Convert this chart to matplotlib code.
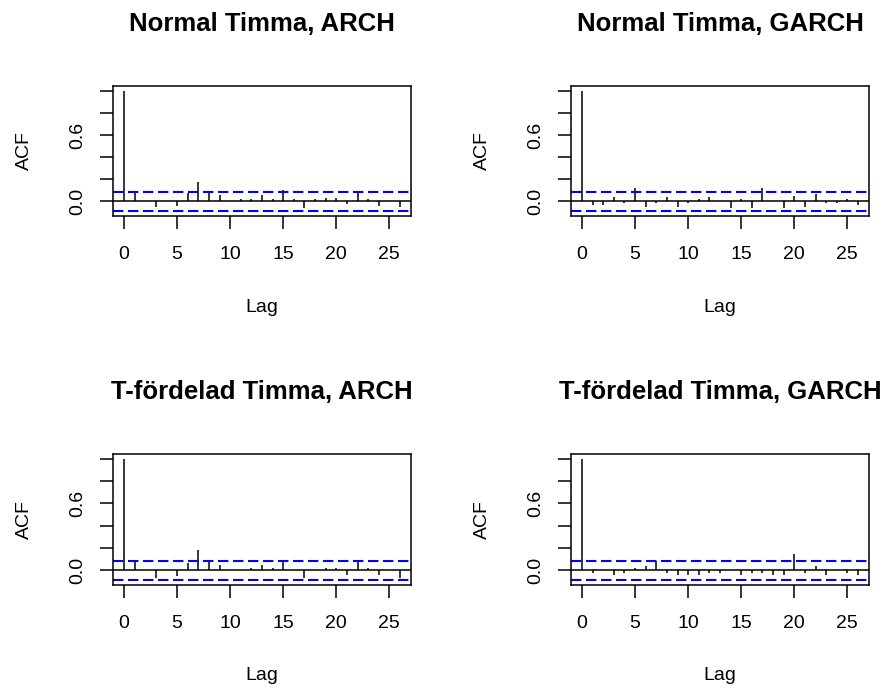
import matplotlib
matplotlib.use("Agg")
import matplotlib.pyplot as plt
import numpy as np

plt.rcParams['font.family'] = ['Liberation Sans', 'DejaVu Sans']

# ACF values, lags 0..26
lags = np.arange(0, 27)
acf_norm_arch = [1.0, 0.075, 0.0, -0.054, 0.0, -0.04, 0.075, 0.18, 0.075, 0.06,
                 0.0, 0.018, 0.018, 0.06, 0.018, 0.108, 0.018, -0.063, 0.018, 0.033,
                 0.033, -0.024, 0.075, 0.018, -0.04, 0.0, -0.054]
acf_norm_garch = [1.0, -0.03, -0.03, 0.036, -0.018, 0.126, -0.048, -0.018, 0.036, -0.048,
                  -0.018, 0.024, 0.036, 0.0, -0.06, 0.024, -0.06, 0.126, 0.0, -0.06,
                  0.05, -0.048, 0.066, -0.018, -0.018, 0.024, -0.03]
acf_t_arch = [1.0, 0.078, 0.0, -0.066, 0.0, -0.048, 0.063, 0.18, 0.078, 0.05,
              0.0, 0.0, 0.02, 0.05, 0.02, 0.084, 0.0, -0.066, 0.0, 0.02,
              0.02, -0.04, 0.078, 0.02, -0.04, 0.0, -0.066]
acf_t_garch = [1.0, -0.024, 0.0, -0.04, -0.024, 0.02, 0.036, 0.084, -0.024, -0.04,
               -0.04, -0.04, -0.024, -0.024, 0.0, -0.04, -0.024, -0.024, -0.04, -0.04,
               0.15, -0.024, 0.036, -0.04, 0.0, -0.024, -0.04]
titles = ["Normal Timma, ARCH", "Normal Timma, GARCH",
          "T-fördelad Timma, ARCH", "T-fördelad Timma, GARCH"]
clim = 0.088

fig = plt.figure(figsize=(8.89, 6.93), dpi=100)
W, H = 889, 693
# axes boxes in pixels: left, top, right, bottom
boxes = [(113, 86, 411, 216), (571, 86, 869, 216),
         (113, 454, 411, 585), (571, 454, 869, 585)]
data = [acf_norm_arch, acf_norm_garch, acf_t_arch, acf_t_garch]

for (l, t, r, b), vals, title in zip(boxes, data, titles):
    ax = fig.add_axes([l / W, 1 - b / H, (r - l) / W, (b - t) / H])
    ax.vlines(lags, 0, vals, color='black', lw=1.1)
    ax.axhline(0, color='black', lw=1.1)
    for c in (clim, -clim):
        ax.axhline(c, color='#0000FF', lw=1.5, ls=(0, (5, 2.2)))
    ax.set_xlim(-1.04, 27.04)
    ax.set_ylim(-clim - 0.0435, 1.0435)
    ax.set_xticks([0, 5, 10, 15, 20, 25])
    ax.set_yticks([0, 0.2, 0.4, 0.6, 0.8, 1.0])
    ax.set_yticklabels(["0.0", "", "", "0.6", "", ""], rotation=90, va='center')
    ax.tick_params(length=9.4, width=1.1, labelsize=14, color='black')
    ax.tick_params(axis='x', pad=12)
    ax.tick_params(axis='y', pad=10)
    for s in ax.spines.values():
        s.set_linewidth(1.1)
    h = b - t
    w = r - l
    ax.text(0.5, 1 + 62 / h, title, transform=ax.transAxes, ha='center',
            va='center', fontsize=18.5, fontweight='bold')
    ax.text(0.5, -91 / h, "Lag", transform=ax.transAxes, ha='center',
            va='center', fontsize=14)
    ax.text(-89 / w, 0.5, "ACF", transform=ax.transAxes, ha='center',
            va='center', rotation=90, fontsize=14)

fig.savefig("out.png", dpi=100)
